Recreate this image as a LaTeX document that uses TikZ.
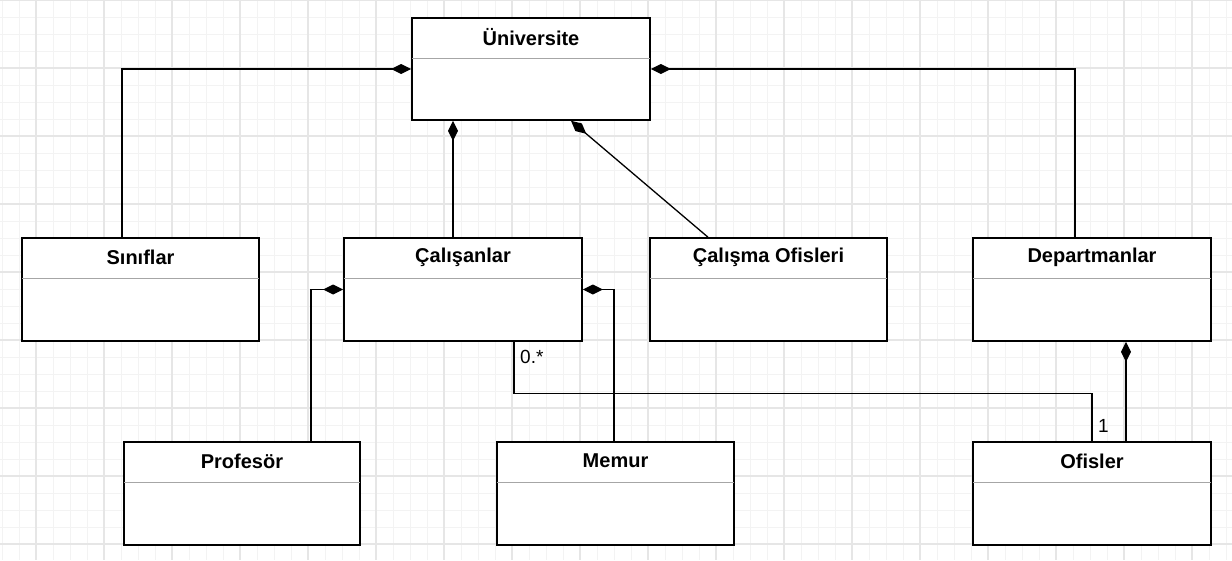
\documentclass[tikz,border=0pt]{standalone}
\usepackage{fontspec}
\setmainfont{Liberation Sans}
\usetikzlibrary{arrows.meta}
\definecolor{gridmajor}{HTML}{E6E6E6}
\definecolor{gridminor}{HTML}{F3F3F3}
\definecolor{sepgray}{HTML}{A6A6A6}
\tikzset{
  cls/.style={draw=black, line width=1.6pt, fill=white, rectangle, inner sep=0pt},
  clstitle/.style={font=\bfseries\fontsize{20}{24}\selectfont, inner sep=0pt},
  sepline/.style={draw=sepgray, line width=1.3pt},
  comp/.style={line width=1.3pt, {Diamond[length=20pt,width=10pt]}-},
  assoc/.style={line width=1.3pt},
  mult/.style={font=\fontsize{19}{22}\selectfont, inner sep=0pt}
}
\begin{document}
\begin{tikzpicture}[x=1pt,y=-1pt]
\useasboundingbox (0,0) rectangle (1232,560);
\fill[white] (0,0) rectangle (1232,560);
% grid
\foreach \i in {0,...,72} {\draw[gridminor, line width=1pt] ({2+17*\i},0) -- ({2+17*\i},560);}
\foreach \j in {0,...,33} {\draw[gridminor, line width=1pt] (0,{17*\j}) -- (1232,{17*\j});}
\foreach \i in {0,...,17} {\draw[gridmajor, line width=1.2pt] ({36+68*\i},0) -- ({36+68*\i},560);}
\foreach \j in {0,...,8} {\draw[gridmajor, line width=1.2pt] (0,{68*\j}) -- (1232,{68*\j});}

% classes
\node[cls, minimum width=238pt, minimum height=102pt] (uni) at (531,69) {};
\node[cls, minimum width=237pt, minimum height=103pt] (sin) at (140.5,289.5) {};
\node[cls, minimum width=238pt, minimum height=103pt] (cal) at (463,289.5) {};
\node[cls, minimum width=237pt, minimum height=103pt] (calo) at (768.5,289.5) {};
\node[cls, minimum width=238pt, minimum height=103pt] (dep) at (1092,289.5) {};
\node[cls, minimum width=236pt, minimum height=103pt] (prof) at (242,493.5) {};
\node[cls, minimum width=237pt, minimum height=103pt] (mem) at (615.5,493.5) {};
\node[cls, minimum width=238pt, minimum height=103pt] (ofis) at (1092,493.5) {};

\foreach \n/\t in {uni/Üniversite, sin/Sınıflar, cal/Çalışanlar, calo/Çalışma Ofisleri, dep/Departmanlar, prof/Profesör, mem/Memur, ofis/Ofisler} {
  \node[clstitle] (\n-title) at ([yshift=-20pt]\n.north) {\t};
  \draw[sepline] ([yshift=-41.5pt,xshift=0.8pt]\n.north west) -- ([yshift=-41.5pt,xshift=-0.8pt]\n.north east);
}

% compositions
\draw[comp] (uni.west) -| ([xshift=-18.5pt]sin.north);
\draw[comp] (uni.east) -| ([xshift=-17pt]dep.north);
\draw[comp] ([xshift=-78pt]uni.south) -- ([xshift=-10pt]cal.north);
\draw[comp] ([xshift=40pt]uni.south) -- ([xshift=-60.5pt]calo.north);
\draw[comp] (cal.west) -| ([xshift=69pt]prof.north);
\draw[comp] (cal.east) -| ([xshift=-1.5pt]mem.north);
\draw[comp] ([xshift=34pt]dep.south) -- ([xshift=34pt]ofis.north);

% association
\coordinate (bend) at ([xshift=51pt,yshift=-52pt]cal.south);
\draw[assoc] ([xshift=51pt]cal.south) -- (bend) -| (ofis.north);
\node[mult, anchor=north west] (m1) at ([xshift=57pt,yshift=-8pt]cal.south) {0.*};
\node[mult, anchor=south west] (m2) at ([xshift=6pt,yshift=9pt]ofis.north) {1};
\end{tikzpicture}
\end{document}
